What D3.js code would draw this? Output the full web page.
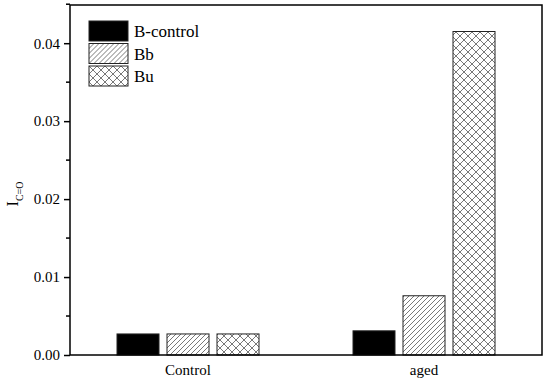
<!DOCTYPE html>
<html>
<head>
<meta charset="utf-8">
<script src="https://cdn.jsdelivr.net/npm/d3@7"></script>
<style>
  body { margin: 0; background: #fff; }
  svg { display: block; }
  svg text { font-family: "Liberation Serif", "Times New Roman", Times, "DejaVu Serif", serif; }
</style>
</head>
<body>
<svg id="chart" width="550" height="381"></svg>
<script>
// data
const categories = ['Control', 'aged'];
const seriesNames = ['B-control', 'Bb', 'Bu'];
const bControl = [0.0027, 0.0031];
const bb = [0.0027, 0.0076];
const bu = [0.0027, 0.0415];
const yTicks = [0.00, 0.01, 0.02, 0.03, 0.04];

// base setting
const width = 550;
const height = 381;
const margin = { top: 5, right: 8, bottom: 26, left: 70 };
const fills = ['#000', 'url(#hatch)', 'url(#cross)'];
const serif = '"Liberation Serif", "Times New Roman", Times, serif';

const svg = d3.select('#chart');

// patterns
const defs = svg.append('defs');
const hatch = defs.append('pattern')
  .attr('id', 'hatch').attr('patternUnits', 'userSpaceOnUse')
  .attr('width', 5).attr('height', 5);
hatch.append('rect').attr('width', 5).attr('height', 5).attr('fill', '#fff');
hatch.append('path').attr('d', 'M-1,1 l2,-2 M0,5 l5,-5 M4,6 l2,-2')
  .attr('stroke', '#555').attr('stroke-width', 0.8);

const cross = defs.append('pattern')
  .attr('id', 'cross').attr('patternUnits', 'userSpaceOnUse')
  .attr('width', 8).attr('height', 8);
cross.append('rect').attr('width', 8).attr('height', 8).attr('fill', '#fff');
cross.append('path').attr('d', 'M-1,1 l2,-2 M0,8 l8,-8 M7,9 l2,-2 M-1,7 l2,2 M0,0 l8,8 M7,-1 l2,2')
  .attr('stroke', '#555').attr('stroke-width', 0.8);

// scales
const x = d3.scaleBand()
  .domain(categories)
  .range([margin.left, width - margin.right]);

const xInner = d3.scaleBand()
  .domain(seriesNames)
  .range([x.bandwidth() / 2 - 71, x.bandwidth() / 2 + 71])
  .paddingInner(0.16);

const y = d3.scaleLinear()
  .domain([0, 0.0449])
  .range([height - margin.bottom, margin.top]);

// bars
const table = seriesNames.map((name, s) => ({
  name,
  values: [bControl, bb, bu][s]
}));

const groups = svg.append('g')
  .selectAll('g')
  .data(table)
  .join('g')
  .attr('fill', (d, i) => fills[i]);

groups.selectAll('rect')
  .data(d => d.values.map((v, i) => ({ name: d.name, cat: categories[i], value: v })))
  .join('rect')
  .attr('x', d => x(d.cat) + xInner(d.name))
  .attr('y', d => y(d.value))
  .attr('width', xInner.bandwidth())
  .attr('height', d => y(0) - y(d.value))
  .attr('stroke', '#222')
  .attr('stroke-width', 1);

// frame
svg.append('rect')
  .attr('x', margin.left).attr('y', margin.top)
  .attr('width', width - margin.left - margin.right)
  .attr('height', height - margin.top - margin.bottom)
  .attr('fill', 'none').attr('stroke', '#000').attr('stroke-width', 1.5);

// y axis
const yAxis = svg.append('g')
  .attr('transform', `translate(${margin.left},0)`)
  .call(d3.axisLeft(y).tickValues(yTicks).tickFormat(d3.format('.2f')).tickSize(6).tickPadding(4))
  .call(g => g.select('.domain').remove())
  .attr('font-family', serif)
  .attr('font-size', 15);
yAxis.selectAll('line').attr('stroke-width', 1.5);
yAxis.selectAll('text').attr('fill', '#000');

// minor ticks
svg.append('g')
  .selectAll('line')
  .data(yTicks.map(d => d + 0.005))
  .join('line')
  .attr('x1', margin.left - 4).attr('x2', margin.left)
  .attr('y1', d => y(d)).attr('y2', d => y(d))
  .attr('stroke', '#000').attr('stroke-width', 1.5);

// x axis
const xAxis = svg.append('g')
  .attr('transform', `translate(0,${height - margin.bottom})`)
  .call(d3.axisBottom(x).tickSize(0).tickPadding(9))
  .call(g => g.select('.domain').remove())
  .attr('font-family', serif)
  .attr('font-size', 15);
xAxis.selectAll('text').attr('fill', '#000');

// y label
const yLabel = svg.append('text')
  .attr('transform', 'translate(18,194) rotate(-90)')
  .attr('text-anchor', 'middle')
  .attr('font-family', serif)
  .attr('font-size', 16);
yLabel.append('tspan').text('I');
yLabel.append('tspan').attr('dy', 5).attr('font-size', 10).text('C=O');

// legend
const legend = svg.append('g')
  .selectAll('g')
  .data(seriesNames)
  .join('g')
  .attr('transform', (d, i) => `translate(89,${21 + i * 22.5})`);

legend.append('rect')
  .attr('width', 39).attr('height', 20)
  .attr('fill', (d, i) => fills[i])
  .attr('stroke', '#222').attr('stroke-width', 1);

legend.append('text')
  .attr('x', 45).attr('y', 16)
  .attr('font-family', serif)
  .attr('font-size', 17)
  .text(d => d);
</script>
</body>
</html>
